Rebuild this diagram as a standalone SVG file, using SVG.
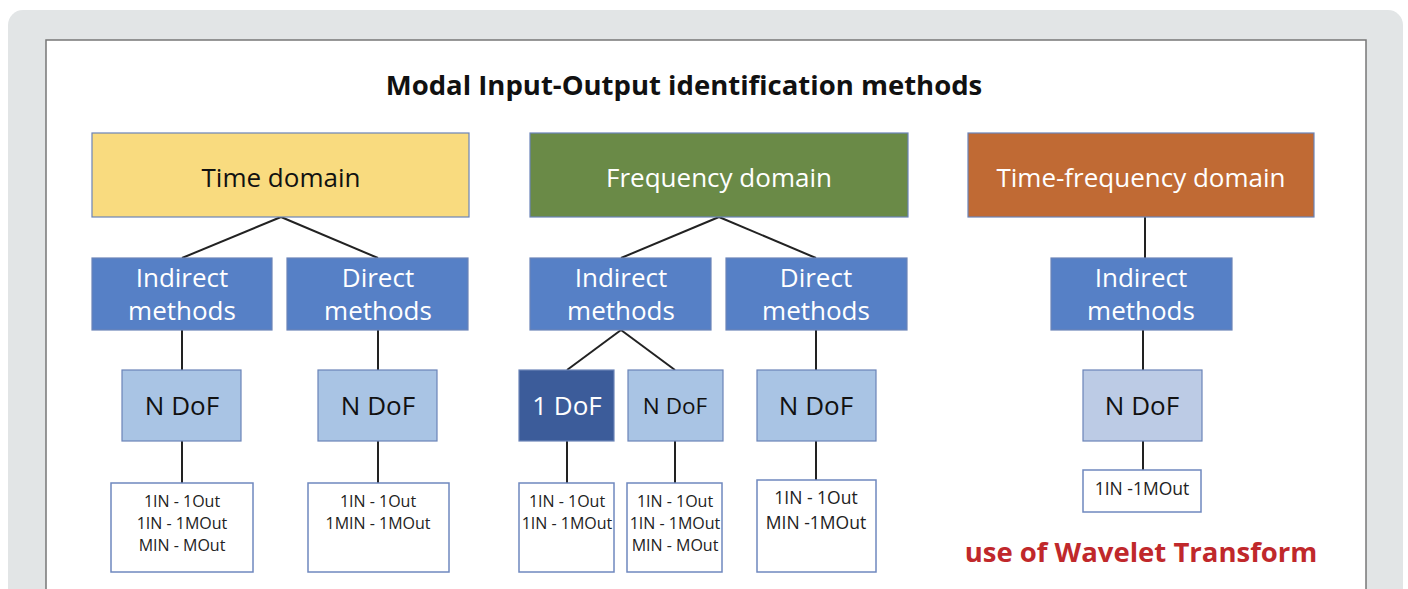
<svg xmlns="http://www.w3.org/2000/svg" width="1408" height="589" viewBox="0 0 1408 589">
<style>
text{font-family:"Open Sans","Noto Sans","Liberation Sans",sans-serif;text-anchor:middle}
.big{font-size:26px}
.mid{font-size:26px}
.small{font-size:16px;fill:#222}
.box{stroke:#6b84b8;stroke-width:1.2}
.meth{fill:#5680c6}
.ndof{fill:#a9c4e4}
.leaf{fill:#fff;stroke:#6f88bf;stroke-width:1.5}
.w{fill:#fff}
.k{fill:#111}
#connectors line{stroke:#222;stroke-width:2}
</style>
<rect x="0" y="0" width="1408" height="589" fill="#fff"/>
<rect x="8" y="10" width="1395" height="600" rx="15" fill="#e2e5e6"/>
<rect x="46" y="40" width="1320" height="560" fill="#fff" stroke="#777" stroke-width="1.5"/>
<text x="684" y="95" style="font-size:27.5px;font-weight:bold" fill="#111">Modal Input-Output identification methods</text>

<g id="connectors">
<line x1="281" y1="217" x2="182" y2="258"/>
<line x1="281" y1="217" x2="378" y2="258"/>
<line x1="719" y1="217" x2="621" y2="258"/>
<line x1="719" y1="217" x2="816" y2="258"/>
<line x1="1145" y1="217" x2="1145" y2="258"/>
<line x1="182" y1="330" x2="182" y2="370"/>
<line x1="378" y1="330" x2="378" y2="370"/>
<line x1="621" y1="330" x2="567" y2="370"/>
<line x1="621" y1="330" x2="675" y2="370"/>
<line x1="816" y1="330" x2="816" y2="370"/>
<line x1="1143" y1="330" x2="1143" y2="370"/>
<line x1="182" y1="441" x2="182" y2="483"/>
<line x1="378" y1="441" x2="378" y2="483"/>
<line x1="567" y1="441" x2="567" y2="483"/>
<line x1="675" y1="441" x2="675" y2="483"/>
<line x1="816" y1="441" x2="816" y2="480"/>
<line x1="1143" y1="441" x2="1143" y2="470"/>
</g>

<g id="time-domain"><rect class="box" x="92" y="133" width="377" height="84" fill="#f9db7f"/><text class="big k" x="281" y="187">Time domain</text></g>
<g id="freq-domain"><rect class="box" x="530" y="133" width="378" height="84" fill="#6a8a47"/><text class="big w" x="719" y="187">Frequency domain</text></g>
<g id="tf-domain"><rect class="box" x="968" y="133" width="346" height="84" fill="#c06a34"/><text class="big w" x="1141" y="187">Time-frequency domain</text></g>

<g id="time-indirect"><rect class="box meth" x="92" y="258" width="180" height="72"/><text class="mid w" x="182" y="287">Indirect</text><text class="mid w" x="182" y="320">methods</text></g>
<g id="time-direct"><rect class="box meth" x="287" y="258" width="181" height="72"/><text class="mid w" x="378" y="287">Direct</text><text class="mid w" x="378" y="320">methods</text></g>
<g id="freq-indirect"><rect class="box meth" x="530" y="258" width="181" height="72"/><text class="mid w" x="621" y="287">Indirect</text><text class="mid w" x="621" y="320">methods</text></g>
<g id="freq-direct"><rect class="box meth" x="726" y="258" width="181" height="72"/><text class="mid w" x="816" y="287">Direct</text><text class="mid w" x="816" y="320">methods</text></g>
<g id="tf-indirect"><rect class="box meth" x="1051" y="258" width="181" height="72"/><text class="mid w" x="1141" y="287">Indirect</text><text class="mid w" x="1141" y="320">methods</text></g>

<g id="time-indirect-ndof"><rect class="box ndof" x="122" y="370" width="119" height="71"/><text class="mid k" x="182" y="415">N DoF</text></g>
<g id="time-direct-ndof"><rect class="box ndof" x="318" y="370" width="119" height="71"/><text class="mid k" x="378" y="415">N DoF</text></g>
<g id="freq-1dof"><rect class="box" x="519" y="370" width="95" height="71" fill="#3c5c9a"/><text class="mid w" x="567" y="415">1 DoF</text></g>
<g id="freq-indirect-ndof"><rect class="box ndof" x="628" y="370" width="95" height="71"/><text class="k" x="675" y="414" style="font-size:22.5px">N DoF</text></g>
<g id="freq-direct-ndof"><rect class="box ndof" x="757" y="370" width="119" height="71"/><text class="mid k" x="816" y="415">N DoF</text></g>
<g id="tf-ndof"><rect class="box" x="1083" y="370" width="119" height="71" fill="#bccbe5"/><text class="mid k" x="1142" y="415">N DoF</text></g>

<g id="leaf-time-indirect"><rect class="leaf" x="111" y="483" width="142" height="89"/><text class="small" x="182" y="507">1IN - 1Out</text><text class="small" x="182" y="529">1IN - 1MOut</text><text class="small" x="182" y="551">MIN - MOut</text></g>
<g id="leaf-time-direct"><rect class="leaf" x="308" y="483" width="141" height="89"/><text class="small" x="378" y="507">1IN - 1Out</text><text class="small" x="378" y="529">1MIN - 1MOut</text></g>
<g id="leaf-1dof"><rect class="leaf" x="519" y="483" width="95" height="89"/><text class="small" x="567" y="507">1IN - 1Out</text><text class="small" x="567" y="529">1IN - 1MOut</text></g>
<g id="leaf-freq-ndof"><rect class="leaf" x="627" y="483" width="95" height="89"/><text class="small" x="675" y="507">1IN - 1Out</text><text class="small" x="675" y="529">1IN - 1MOut</text><text class="small" x="675" y="551">MIN - MOut</text></g>
<g id="leaf-freq-direct"><rect class="leaf" x="757" y="480" width="119" height="92"/><text class="small" x="816" y="504" style="font-size:17.5px">1IN - 1Out</text><text class="small" x="816" y="529" style="font-size:17.5px">MIN -1MOut</text></g>
<g id="leaf-tf"><rect class="leaf" x="1083" y="470" width="118" height="42"/><text class="small" x="1142" y="495" style="font-size:17.5px">1IN -1MOut</text></g>

<text x="1141" y="562" style="font-size:27.5px;font-weight:bold" fill="#c0282b">use of Wavelet Transform</text>
</svg>
